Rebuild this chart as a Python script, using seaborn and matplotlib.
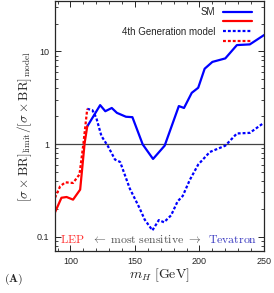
import matplotlib
matplotlib.use('Agg')
import matplotlib.pyplot as plt
from matplotlib.ticker import MultipleLocator, FixedLocator, FixedFormatter, LogLocator, NullFormatter
import seaborn as sns

# SM limit ratio (Tevatron part), blue solid
sm_mass = [113, 123, 127, 132, 136, 143, 148, 156, 164, 173, 184, 188, 194, 199, 204, 210, 220, 229, 239, 250]
sm_ratio = [1.55, 2.63, 2.26, 2.45, 2.17, 1.97, 1.95, 0.99, 0.69, 0.96, 2.57, 2.45, 3.57, 4.05, 6.5, 7.7, 8.4, 11.7, 11.9, 15.0]

# SM limit ratio, LEP part, red solid
lep_sm_mass = [88, 93, 97, 102, 107.5, 111, 113]
lep_sm_ratio = [0.183, 0.263, 0.268, 0.251, 0.322, 1.03, 1.55]

# 4th generation, Tevatron, blue dotted
g4_mass = [113, 117, 120, 124, 129, 134.5, 138.5, 146, 153.5, 157.5, 163.5, 168.5, 172.5,
           178, 183, 187, 192.5, 199, 208, 220, 229, 239, 249]
g4_ratio = [2.4, 2.32, 1.92, 1.22, 0.95, 0.68, 0.64, 0.33, 0.204, 0.153, 0.117, 0.151, 0.143,
            0.17, 0.24, 0.275, 0.41, 0.6, 0.82, 0.96, 1.3, 1.32, 1.66]

# 4th generation, LEP, red dotted
lep_g4_mass = [88, 92, 96, 102, 107, 110, 113]
lep_g4_ratio = [0.263, 0.35, 0.386, 0.38, 0.47, 1.0, 2.4]

sns.set_style('ticks')
plt.rcParams['font.family'] = ['Liberation Sans', 'DejaVu Sans']
plt.rcParams['mathtext.fontset'] = 'cm'

fig = plt.figure(figsize=(2.74, 2.93), dpi=100)
ax = fig.add_axes([0.2007, 0.1433, 0.7628, 0.8533])

blue = '#0000ff'
red = '#ff0000'
dots = (0, (1.3, 0.9))

ax.axhline(1, color='#444444', lw=0.9, zorder=1)
sns.lineplot(x=sm_mass, y=sm_ratio, ax=ax, color=blue, lw=1.6, label='SM')
sns.lineplot(x=lep_sm_mass, y=lep_sm_ratio, ax=ax, color=red, lw=1.6, label=' ')
sns.lineplot(x=g4_mass, y=g4_ratio, ax=ax, color=blue, lw=1.6, linestyle=dots, label='4th Generation model')
sns.lineplot(x=lep_g4_mass, y=lep_g4_ratio, ax=ax, color=red, lw=1.6, linestyle=dots, label='  ')

handles, labels = ax.get_legend_handles_labels()
ax.legend(handles, ['SM', '', '4th Generation model', ''], loc='upper right', frameon=False,
          bbox_to_anchor=(0.943, 0.976), markerfirst=False, fontsize=7, handlelength=3.0,
          labelspacing=-0.02, borderaxespad=0, borderpad=0, handletextpad=0.8)

ax.set_yscale('log')
ax.set_xlim(88, 250)
ax.set_ylim(0.07, 35)

ax.xaxis.set_major_locator(MultipleLocator(50))
ax.xaxis.set_minor_locator(MultipleLocator(10))
ax.yaxis.set_major_locator(FixedLocator([0.1, 1, 10]))
ax.yaxis.set_major_formatter(FixedFormatter(['0.1', '1', '10']))
ax.yaxis.set_minor_locator(LogLocator(base=10, subs=range(2, 10)))
ax.yaxis.set_minor_formatter(NullFormatter())
ax.tick_params(which='both', direction='in', top=True, right=True, labelsize=6.5, pad=4)
ax.tick_params(which='major', length=4, width=0.7)
ax.tick_params(which='minor', length=2, width=0.6)
for s in ax.spines.values():
    s.set_linewidth(0.9)

ax.set_xlabel(r'$m_H\ [\mathrm{GeV}]$', fontsize=10, labelpad=1)
ax.set_ylabel(r'$[\sigma\times\mathrm{BR}]_{\mathrm{limit}}/[\sigma\times\mathrm{BR}]_{\mathrm{model}}$',
              fontsize=9.5, labelpad=2)

ax.text(0.024, 0.045, r'$\mathrm{LEP}$', transform=ax.transAxes, color='#ff3030',
        fontsize=8.5, ha='left', va='center')
ax.text(0.435, 0.045, r'$\leftarrow\ \mathrm{most\ sensitive}\ \rightarrow$', transform=ax.transAxes,
        color='#555555', fontsize=8.5, ha='center', va='center')
ax.text(0.97, 0.045, r'$\mathrm{Tevatron}$', transform=ax.transAxes, color='#3838c0',
        fontsize=8.5, ha='right', va='center')

fig.text(0.015, 0.045, r'$\mathbf{(A)}$', fontsize=8.5, ha='left', va='center')

fig.savefig('out.png', dpi=100)
